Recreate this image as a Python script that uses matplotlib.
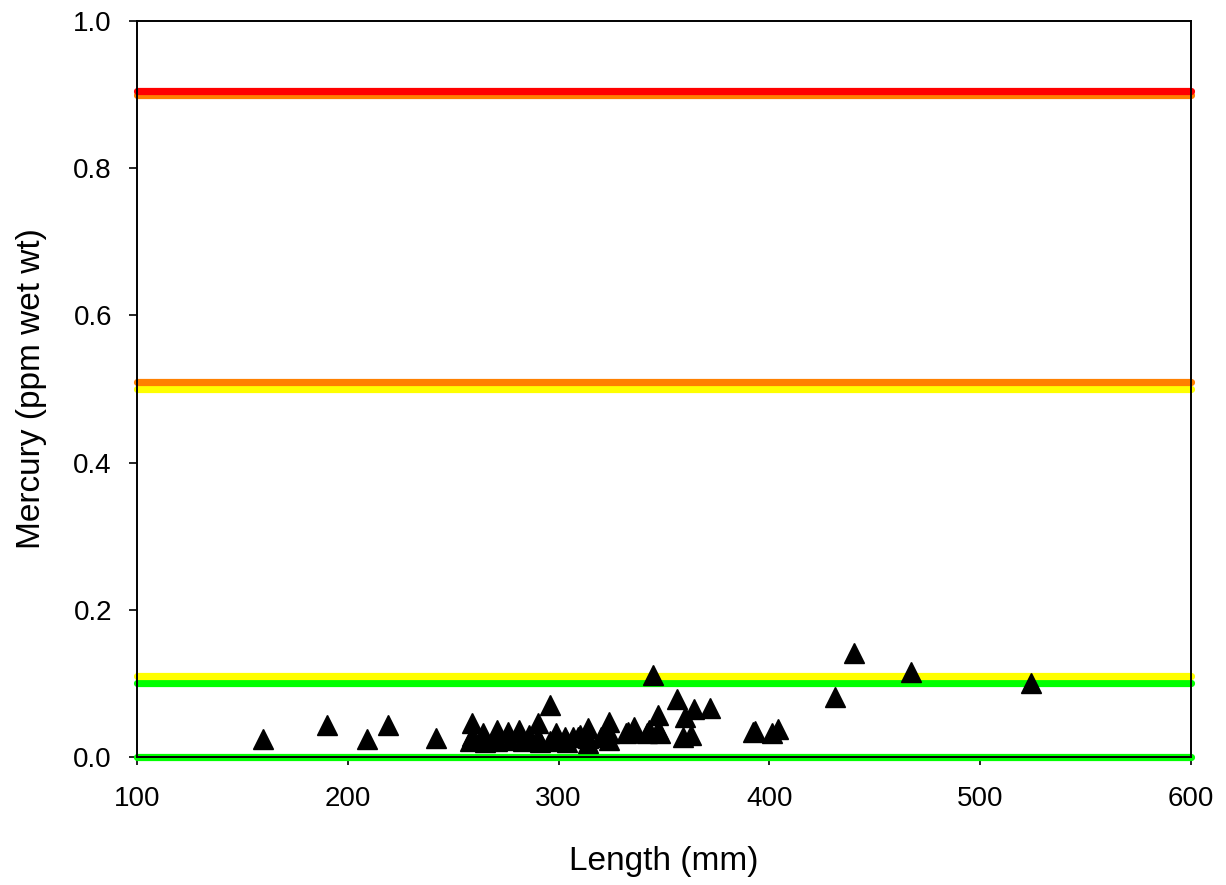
import matplotlib.pyplot as plt
import numpy as np

plt.rcParams['font.family'] = ['Liberation Sans', 'DejaVu Sans']

# fish samples
length_mm = [160, 190, 209, 219, 242,
             259, 258, 259, 264, 265, 271, 271, 276, 277, 281, 283, 286, 290, 291,
             290, 296, 296, 299, 299, 303, 304, 307, 309, 310, 314, 314, 314, 320,
             324, 324, 324, 332, 333, 336, 336, 342, 343, 345, 347, 347, 348,
             356, 359, 360, 363, 364, 372, 392, 393, 401, 404,
             431, 440, 467, 524]
mercury_ppm = [0.024, 0.044, 0.024, 0.044, 0.026,
               0.046, 0.022, 0.028, 0.033, 0.021, 0.037, 0.022, 0.034, 0.023, 0.037, 0.022, 0.030, 0.046, 0.021,
               0.026, 0.071, 0.022, 0.033, 0.026, 0.027, 0.021, 0.027, 0.027, 0.030, 0.039, 0.026, 0.019, 0.027,
               0.048, 0.032, 0.023, 0.033, 0.034, 0.041, 0.034, 0.032, 0.037, 0.111, 0.057, 0.037, 0.033,
               0.079, 0.027, 0.054, 0.030, 0.065, 0.066, 0.034, 0.035, 0.033, 0.038,
               0.081, 0.142, 0.115, 0.100]

# advisory band limits (ppm)
band_levels = [0.0, 0.10, 0.11, 0.50, 0.51, 0.90, 0.905]
band_colors = ['#00FF00', '#00FF00', '#FFFF00', '#FFFF00', '#FF8000', '#FF8000', '#FF0000']

fig = plt.figure(figsize=(12.26, 8.85), dpi=100)
ax = fig.add_axes([0.1117, 0.1446, 0.8598, 0.8317])

for lvl, col in zip(band_levels, band_colors):
    ax.plot([100, 600], [lvl, lvl], color=col, lw=5.2, solid_capstyle='round',
            clip_on=False, zorder=2)

ax.plot(length_mm, mercury_ppm, linestyle='none', marker='^', color='black',
        markersize=15, zorder=3)

ax.set_xlim(100, 600)
ax.set_ylim(0, 1.0)
ax.set_xticks(np.arange(100, 601, 100))
ax.set_yticks(np.arange(0, 1.01, 0.2))
ax.yaxis.set_major_formatter(plt.FormatStrFormatter('%.1f'))
ax.tick_params(direction='out', length=6, width=1.2, labelsize=20)
ax.tick_params(axis='x', pad=15)
ax.tick_params(axis='y', pad=12)
for s in ax.spines.values():
    s.set_linewidth(1.4)

ax.set_xlabel('Length (mm)', fontsize=24, labelpad=24)
ax.set_ylabel('Mercury (ppm wet wt)', fontsize=24, labelpad=19)

plt.savefig('out.png', dpi=100)
